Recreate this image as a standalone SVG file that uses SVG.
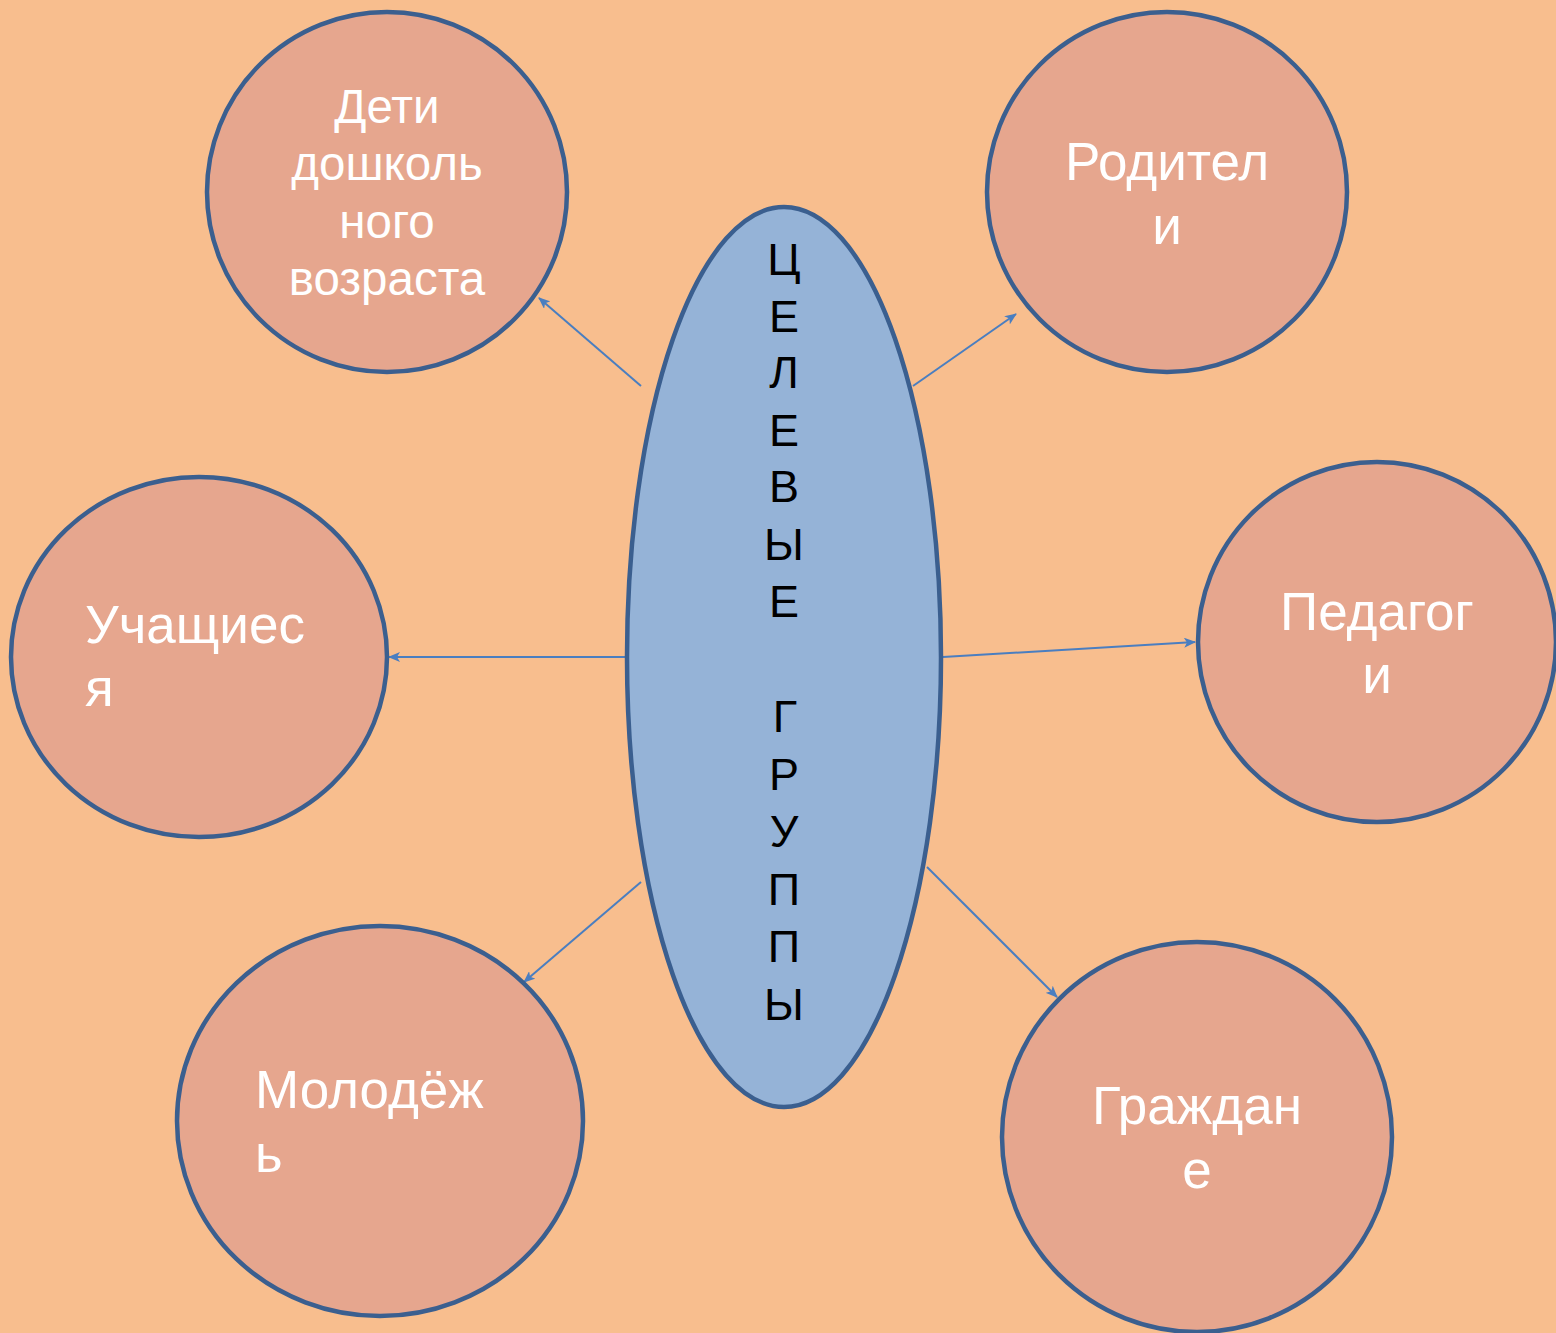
<svg xmlns="http://www.w3.org/2000/svg" width="1556" height="1333" viewBox="0 0 1556 1333">
<defs>
<style>
.node{fill:#E6A68E;stroke:#3B5F8F;stroke-width:4.5}
.hub{fill:#95B3D7;stroke:#3B5F8F;stroke-width:4.5}
.lbl{fill:#FFFFFF;font-family:"Liberation Sans",Arial,sans-serif;font-size:53px}
.sm{font-size:47.5px}
.hubt{fill:#000000;font-family:"Liberation Sans",Arial,sans-serif;font-size:45px;text-anchor:middle}
.conn{stroke:#4A7EC0;stroke-width:2;fill:none;marker-end:url(#ah)}
</style>
<marker id="ah" viewBox="0 0 12 10" refX="11" refY="5" markerWidth="12" markerHeight="10" markerUnits="userSpaceOnUse" orient="auto">
<path d="M0,0 L12,5 L0,10 L3,5 Z" fill="#4A7EC0"/>
</marker>
</defs>
<rect width="1556" height="1333" fill="#F8BE8E"/>
<g id="connectors">
<line class="conn" x1="641" y1="386" x2="539" y2="298"/>
<line class="conn" x1="913" y1="386" x2="1016" y2="314"/>
<line class="conn" x1="625" y1="657" x2="389" y2="657"/>
<line class="conn" x1="943" y1="657" x2="1195" y2="642"/>
<line class="conn" x1="641" y1="882" x2="524" y2="982"/>
<line class="conn" x1="927" y1="867" x2="1057" y2="997"/>
</g>
<g id="hub">
<ellipse class="hub" cx="784" cy="657" rx="157" ry="450"/>
<text class="hubt" x="784" y="275">Ц</text>
<text class="hubt" x="784" y="332">Е</text>
<text class="hubt" x="784" y="388">Л</text>
<text class="hubt" x="784" y="446">Е</text>
<text class="hubt" x="784" y="502">В</text>
<text class="hubt" x="784" y="560">Ы</text>
<text class="hubt" x="784" y="617">Е</text>
<text class="hubt" x="785" y="732">Г</text>
<text class="hubt" x="784" y="790">Р</text>
<text class="hubt" x="784" y="847">У</text>
<text class="hubt" x="784" y="905">П</text>
<text class="hubt" x="784" y="962">П</text>
<text class="hubt" x="784" y="1020">Ы</text>
</g>
<g id="node-deti">
<ellipse class="node" cx="387" cy="192" rx="180" ry="180"/>
<text class="lbl sm" text-anchor="middle" x="387" y="123">Дети</text>
<text class="lbl sm" text-anchor="middle" x="387" y="180">дошколь</text>
<text class="lbl sm" text-anchor="middle" x="387" y="238">ного</text>
<text class="lbl sm" text-anchor="middle" x="387" y="295">возраста</text>
</g>
<g id="node-roditeli">
<ellipse class="node" cx="1167" cy="192" rx="180" ry="180"/>
<text class="lbl" text-anchor="middle" x="1167" y="180">Родител</text>
<text class="lbl" text-anchor="middle" x="1167" y="244">и</text>
</g>
<g id="node-uchashchiesya">
<ellipse class="node" cx="199" cy="657" rx="188" ry="180"/>
<text class="lbl" x="85" y="643">Учащиес</text>
<text class="lbl" x="85" y="706">я</text>
</g>
<g id="node-pedagogi">
<ellipse class="node" cx="1377" cy="642" rx="179" ry="180"/>
<text class="lbl" text-anchor="middle" x="1377" y="630">Педагог</text>
<text class="lbl" text-anchor="middle" x="1377" y="693">и</text>
</g>
<g id="node-molodezh">
<ellipse class="node" cx="380" cy="1121" rx="203" ry="195"/>
<text class="lbl" x="255" y="1108">Молодёж</text>
<text class="lbl" x="255" y="1172">ь</text>
</g>
<g id="node-grazhdane">
<ellipse class="node" cx="1197" cy="1137" rx="195" ry="195"/>
<text class="lbl" text-anchor="middle" x="1197" y="1124">Граждан</text>
<text class="lbl" text-anchor="middle" x="1197" y="1188">е</text>
</g>
</svg>
